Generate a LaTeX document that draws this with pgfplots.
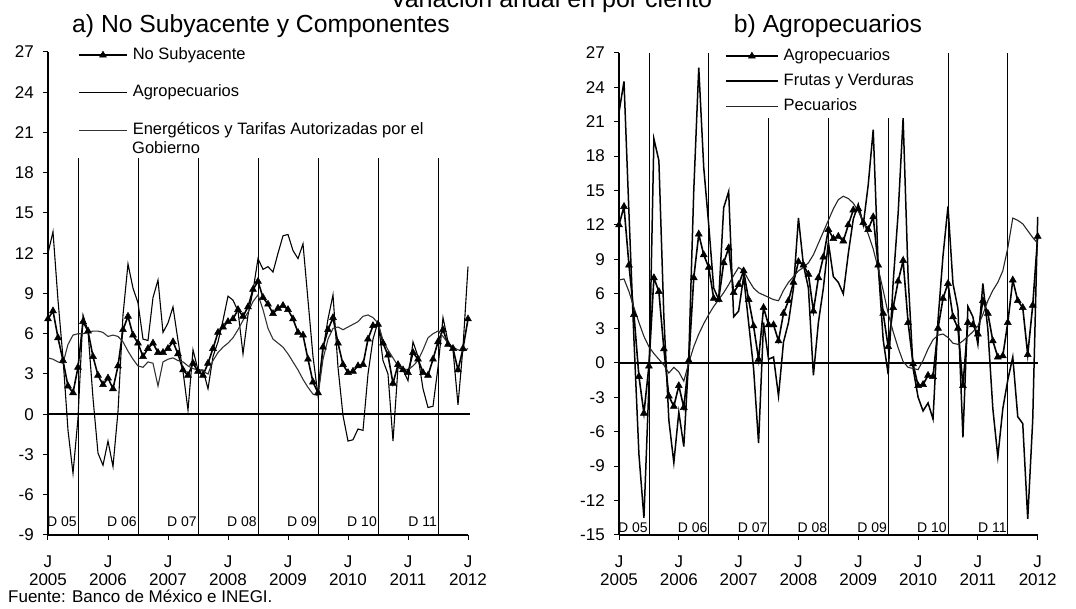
\documentclass[border=0pt]{standalone}
\usepackage{fontspec}
\setmainfont{Liberation Sans}
\usepackage{pgfplots}
\usepackage{pgfplotstable}
\pgfplotsset{compat=1.18}

\pgfplotstableread{
m nosub agro energ fv pec
0 7.1 12.0 4.2 21.8 7.2
1 7.7 13.6 4.1 24.5 7.3
2 5.7 8.5 3.9 13.0 6.2
3 4.0 4.2 3.8 2.0 4.8
4 2.1 -1.2 5.2 -8.0 3.5
5 1.6 -4.4 5.9 -13.5 2.3
6 3.5 -0.3 6.0 -2.0 1.4
7 6.9 7.4 6.0 19.5 0.8
8 6.2 6.2 6.1 17.6 0.3
9 4.3 1.2 6.2 4.0 -0.2
10 2.9 -2.9 6.2 -5.0 -0.9
11 2.2 -3.8 6.1 -8.7 -0.4
12 2.7 -2.0 5.8 -4.3 -0.8
13 1.9 -3.9 5.9 -7.3 -1.6
14 3.6 0.2 5.8 0.5 0.0
15 6.3 7.4 5.4 15.0 1.4
16 7.3 11.2 4.7 25.7 2.5
17 5.9 9.4 4.1 17.0 3.4
18 5.3 8.3 3.6 12.0 4.2
19 4.3 5.6 3.5 6.5 4.9
20 4.9 5.5 3.9 5.5 5.5
21 5.3 8.7 3.8 13.5 6.1
22 4.6 10.0 2.1 14.9 6.8
23 4.6 6.1 3.9 4.0 7.6
24 4.9 6.8 4.1 4.5 8.3
25 5.4 8.0 4.2 7.5 8.0
26 4.5 5.5 4.0 3.5 7.2
27 3.3 3.2 3.9 -0.5 6.5
28 2.9 0.3 3.6 -7.0 6.1
29 3.8 4.8 3.4 3.5 5.9
30 3.2 3.3 3.3 0.3 5.7
31 2.9 3.3 3.2 0.5 5.5
32 3.8 1.9 3.0 -2.9 5.4
33 4.9 4.3 4.0 1.8 6.3
34 6.1 5.4 4.6 3.5 7.0
35 6.5 7.0 5.0 6.5 7.5
36 6.9 8.8 5.3 12.6 8.0
37 7.1 8.5 5.7 8.5 8.3
38 7.8 7.7 6.3 6.5 8.7
39 7.3 4.5 7.0 -1.1 9.4
40 8.0 7.4 7.6 3.5 10.4
41 9.3 9.2 8.4 6.5 11.4
42 9.9 11.6 8.9 10.5 12.4
43 8.7 10.8 7.8 7.5 13.4
44 8.2 11.0 6.4 7.0 14.2
45 7.5 10.6 5.6 6.0 14.5
46 7.9 12.0 5.3 9.5 14.3
47 8.1 13.3 5.0 12.5 13.9
48 7.8 13.4 4.5 13.8 13.2
49 7.1 12.2 3.9 12.0 12.3
50 6.1 11.6 3.3 15.5 11.2
51 5.9 12.7 2.6 20.3 9.9
52 4.1 8.5 2.0 8.5 8.2
53 2.4 4.3 1.5 2.0 6.3
54 1.6 1.4 1.4 -1.0 4.3
55 5.0 4.8 4.1 7.0 2.7
56 6.3 7.1 5.6 13.0 1.3
57 7.2 8.9 6.4 21.3 0.1
58 5.3 3.5 6.5 7.5 -0.4
59 3.7 -0.1 6.3 -0.5 -0.5
60 3.1 -2.0 6.5 -3.0 -0.6
61 3.2 -1.9 6.7 -4.2 0.2
62 3.6 -1.1 6.9 -3.5 1.2
63 3.7 -1.2 7.3 -4.9 2.0
64 5.6 3.0 7.4 3.7 2.4
65 6.6 5.6 7.2 9.3 2.5
66 6.7 6.9 6.8 13.6 2.2
67 5.3 4.0 5.5 6.9 1.7
68 4.4 3.0 4.8 4.7 1.6
69 2.3 -2.0 4.2 -6.5 1.9
70 3.7 3.5 3.6 4.9 2.3
71 3.3 3.3 3.4 4.0 2.7
72 3.1 2.5 3.3 1.6 3.2
73 4.6 5.4 3.6 6.9 4.2
74 4.1 4.3 4.0 2.9 5.4
75 3.1 1.9 4.8 -4.0 6.3
76 2.9 0.5 5.7 -8.2 7.0
77 4.1 0.6 6.0 -4.0 8.0
78 5.4 3.5 6.2 -1.5 10.0
79 6.3 7.2 5.8 0.5 12.6
80 5.2 5.4 5.3 -4.7 12.4
81 4.9 4.8 5.0 -5.3 12.1
82 3.3 0.7 4.8 -13.6 11.5
83 4.9 5.0 4.7 -5.0 10.9
84 7.1 11.0 4.9 12.7 10.4
}\datatab

\pgfplotsset{
  panel/.style={
    scale only axis, clip=false,
    axis x line*=bottom, axis y line*=left,
    axis line style={-, line width=1.6pt, black},
    tick align=outside, major tick length=5pt,
    tick style={line width=1pt, black},
    xmin=0, xmax=84, xtick={0,12,...,84},
    xticklabels={{J\\2005},{J\\2006},{J\\2007},{J\\2008},{J\\2009},{J\\2010},{J\\2011},{J\\2012}},
    xticklabel style={align=center, font=\fontsize{17}{18}\selectfont, inner sep=0pt, yshift=-16pt},
    yticklabel style={font=\fontsize{17}{19}\selectfont, inner sep=0pt, xshift=-9pt},
    /pgf/number format/assume math mode=true,
    legend cell align=left,
  },
  tri/.style={black, line width=1.6pt, mark=triangle*, mark size=4pt, mark options={solid, fill=black, line width=0.5pt}},
}

\begin{document}
\begin{tikzpicture}
\useasboundingbox (0pt,0pt) rectangle (1076pt,609pt);

\node[anchor=base, inner sep=0pt, font=\fontsize{25}{30}\selectfont] at (551pt,601pt) {Variación anual en por ciento};
\node[anchor=base, inner sep=0pt, font=\fontsize{24.7}{30}\selectfont] at (261pt,576pt) {a) No Subyacente y Componentes};
\node[anchor=base, inner sep=0pt, font=\fontsize{24.7}{30}\selectfont] at (828pt,576pt) {b) Agropecuarios};
\node[anchor=base west, inner sep=0pt, font=\fontsize{17}{20}\selectfont] at (8pt,6pt) {Fuente: Banco de México e INEGI.};

% ---------------- panel a ----------------
\begin{axis}[panel,
  at={(48pt,74pt)}, anchor=south west,
  width=420pt, height=483pt,
  ymin=-9, ymax=27, ytick={-9,-6,...,27},
  legend image code/.code={\draw[mark repeat=2,mark phase=2,#1] plot coordinates {(0pt,0pt) (24pt,0pt) (48pt,0pt)};},
  legend style={at={(0.0714,1.0104)}, anchor=north west, draw=none, fill=none,
    inner sep=0pt, row sep=21.5pt, column sep=5pt,
    font=\fontsize{16.5}{19}\selectfont,
    nodes={inner sep=0pt, text height=12pt, text depth=4pt}},
]
\addplot[black, line width=0.8pt, unbounded coords=jump, forget plot] coordinates {
 (6,-9) (6,19.1) (6,nan) (18,-9) (18,19.1) (18,nan) (30,-9) (30,19.1) (30,nan)
 (42,-9) (42,19.1) (42,nan) (54,-9) (54,19.1) (54,nan) (66,-9) (66,19.1) (66,nan)
 (78,-9) (78,19.1)};
\addplot[black, line width=1.8pt, forget plot] coordinates {(0,0) (84.4,0)};
\addplot[tri] table[x=m, y=nosub]{\datatab};
\addlegendentry{No Subyacente}
\addplot[black, line width=1.1pt] table[x=m, y=agro]{\datatab};
\addlegendentry{Agropecuarios}
\addplot[black!80, line width=1.1pt] table[x=m, y=energ]{\datatab};
\addlegendentry{Energéticos y Tarifas Autorizadas por el}
\begin{scope}[every node/.style={anchor=base east, inner sep=0pt, xshift=-1pt, font=\fontsize{14}{16}\selectfont}]
\node at (axis cs:6,-8.4) {D 05};
\node at (axis cs:18,-8.4) {D 06};
\node at (axis cs:30,-8.4) {D 07};
\node at (axis cs:42,-8.4) {D 08};
\node at (axis cs:54,-8.4) {D 09};
\node at (axis cs:66,-8.4) {D 10};
\node at (axis cs:78,-8.4) {D 11};
\end{scope}
\end{axis}
\node[anchor=base west, inner sep=0pt, font=\fontsize{16.5}{19}\selectfont] at (132pt,455pt) {Gobierno};

% ---------------- panel b ----------------
\begin{axis}[panel,
  at={(619pt,74pt)}, anchor=south west,
  width=418.7pt, height=482.3pt,
  ymin=-15, ymax=27, ytick={-15,-12,...,27},
  legend image code/.code={\draw[mark repeat=2,mark phase=2,#1] plot coordinates {(0pt,0pt) (26pt,0pt) (52pt,0pt)};},
  legend style={at={(0.253,1.0098)}, anchor=north west, draw=none, fill=none,
    inner sep=0pt, row sep=9pt, column sep=5pt,
    font=\fontsize{16.5}{19}\selectfont,
    nodes={inner sep=0pt, text height=12pt, text depth=4pt}},
]
\addplot[black, line width=0.8pt, unbounded coords=jump, forget plot] coordinates {
 (6,-15) (6,27) (6,nan) (18,-15) (18,27) (18,nan) (30,-15) (30,21.3) (30,nan)
 (42,-15) (42,21.3) (42,nan) (54,-15) (54,21.3) (54,nan) (66,-15) (66,27) (66,nan)
 (78,-15) (78,27)};
\addplot[black, line width=1.8pt, forget plot] coordinates {(0,0) (84,0)};
\addplot[tri] table[x=m, y=agro]{\datatab};
\addlegendentry{Agropecuarios}
\addplot[black, line width=1.5pt] table[x=m, y=fv]{\datatab};
\addlegendentry{Frutas y Verduras}
\addplot[black!85, line width=1.1pt] table[x=m, y=pec]{\datatab};
\addlegendentry{Pecuarios}
\begin{scope}[every node/.style={anchor=base east, inner sep=0pt, xshift=-1pt, font=\fontsize{14}{16}\selectfont}]
\node at (axis cs:6,-14.8) {D 05};
\node at (axis cs:18,-14.8) {D 06};
\node at (axis cs:30,-14.8) {D 07};
\node at (axis cs:42,-14.8) {D 08};
\node at (axis cs:54,-14.8) {D 09};
\node at (axis cs:66,-14.8) {D 10};
\node at (axis cs:78,-14.8) {D 11};
\end{scope}
\end{axis}
\end{tikzpicture}
\end{document}
